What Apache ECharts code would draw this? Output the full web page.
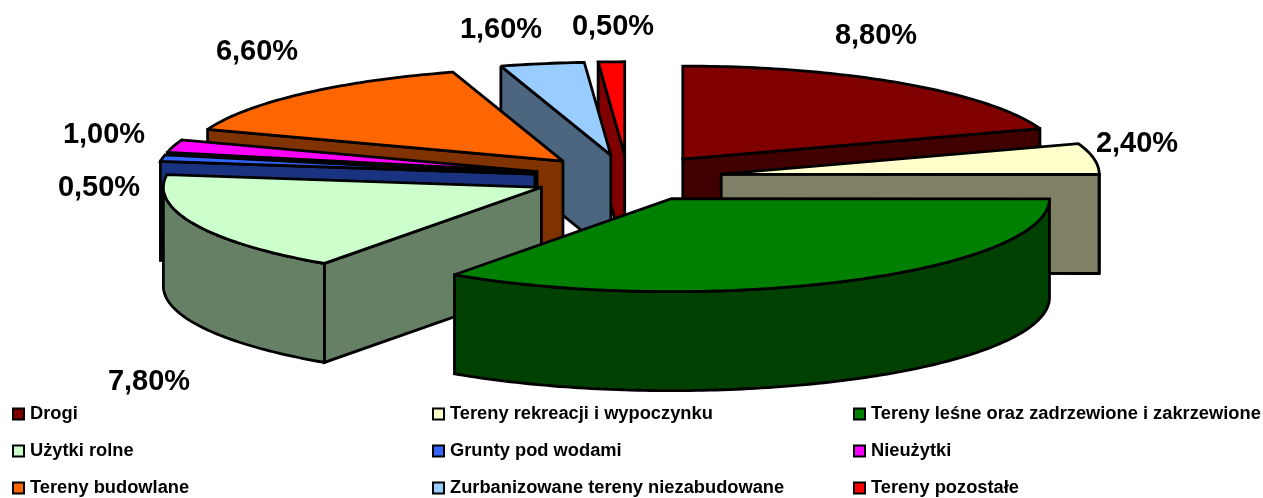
<!DOCTYPE html>
<html>
<head>
<meta charset="utf-8">
<style>
    html, body { margin: 0; padding: 0; background: #fff; }
    #chart { width: 1263px; height: 498px; }
</style>
<script src="https://cdn.jsdelivr.net/npm/echarts@6/dist/echarts.min.js"></script>
</head>
<body>
<div id="chart"></div>
<script>
// dane
var categories = ['Drogi', 'Tereny rekreacji i wypoczynku', 'Tereny leśne oraz zadrzewione i zakrzewione',
    'Użytki rolne', 'Grunty pod wodami', 'Nieużytki',
    'Tereny budowlane', 'Zurbanizowane tereny niezabudowane', 'Tereny pozostałe'];
// wartość lasów nie ma etykiety na obrazku, odczytana z kąta wycinka
var values = [8.8, 2.4, 15.5, 7.8, 0.5, 1.0, 6.6, 1.6, 0.5];
var labelTexts = ['8,80%', '2,40%', '', '7,80%', '0,50%', '1,00%', '6,60%', '1,60%', '0,50%'];
var colors = ['#800000', '#FFFFCC', '#008000', '#CCFFCC', '#3366FF', '#FF00FF', '#FF6600', '#99CCFF', '#FF0000'];
var wallColors = ['#400000', '#808066', '#004000', '#668066', '#1A3380', '#800080', '#803300', '#4D6680', '#800000'];
// środki etykiet w pikselach
var labelCenters = [[876, 36], [1137, 144], null, [149, 382], [99, 188], [104, 135], [257, 52], [501, 30], [613, 27]];
// kolejność rysowania, od tyłu do przodu
var drawOrder = [8, 7, 6, 5, 4, 3, 0, 1, 2];

// układ pseudo 3D
var centerX = 628, centerY = 178;
var radiusX = 378, radiusY = 93;
var depth = 99;
var explode = 0.25;

var total = 0;
for (var i = 0; i < values.length; i++) {
    total += values[i];
}
var startAngles = [];
var sum = 0;
for (var i = 0; i < values.length; i++) {
    startAngles.push(sum / total * 360);
    sum += values[i];
}

function rad(deg) {
    return deg * Math.PI / 180;
}

function rimPoint(cx, cy, deg, drop) {
    return [cx + radiusX * Math.sin(rad(deg)), cy - radiusY * Math.cos(rad(deg)) + drop];
}

function arcPoints(cx, cy, a0, a1, drop) {
    var pts = [];
    for (var a = a0; a < a1; a += 1) {
        pts.push(rimPoint(cx, cy, a, drop));
    }
    pts.push(rimPoint(cx, cy, a1, drop));
    return pts;
}

function face(points, fill, z2) {
    return {
        type: 'polygon',
        z2: z2,
        shape: { points: points },
        style: { fill: fill, stroke: '#000', lineWidth: 2.8, lineJoin: 'miter', miterLimit: 2 }
    };
}

function makeRenderItem(idx) {
    return function (params, api) {
        var a0 = startAngles[idx];
        var a1 = a0 + api.value(0) / total * 360;
        var mid = (a0 + a1) / 2;
        var cx = centerX + explode * radiusX * Math.sin(rad(mid));
        var cy = centerY - explode * radiusY * Math.cos(rad(mid));
        var children = [];

        // ściany cięcia
        if (Math.sin(rad(a0)) < -0.001) {
            var p = rimPoint(cx, cy, a0, 0);
            children.push(face([[cx, cy], p, [p[0], p[1] + depth], [cx, cy + depth]], wallColors[idx], 1));
        }
        if (Math.sin(rad(a1)) > 0.001) {
            var q = rimPoint(cx, cy, a1, 0);
            children.push(face([[cx, cy], q, [q[0], q[1] + depth], [cx, cy + depth]], wallColors[idx], 1));
        }
        // ściana zewnętrzna, tylko przednia połowa
        var w0 = Math.max(a0, 90), w1 = Math.min(a1, 270);
        if (w1 > w0) {
            var wall = arcPoints(cx, cy, w0, w1, 0).concat(arcPoints(cx, cy, w0, w1, depth).reverse());
            children.push(face(wall, wallColors[idx], 2));
        }
        // góra wycinka
        children.push(face([[cx, cy]].concat(arcPoints(cx, cy, a0, a1, 0)), colors[idx], 3));

        if (labelCenters[idx]) {
            children.push({
                type: 'text',
                z2: 10,
                style: {
                    x: labelCenters[idx][0],
                    y: labelCenters[idx][1],
                    text: labelTexts[idx],
                    fill: '#000',
                    align: 'center',
                    verticalAlign: 'middle',
                    font: 'bold 29px "Liberation Sans", Arial, sans-serif'
                }
            });
        }
        return { type: 'group', children: children };
    };
}

var seriesList = [];
for (var i = 0; i < drawOrder.length; i++) {
    var idx = drawOrder[i];
    seriesList.push({
        type: 'custom',
        name: categories[idx],
        coordinateSystem: 'none',
        itemStyle: { color: colors[idx] },
        renderItem: makeRenderItem(idx),
        data: [[values[idx]]],
        silent: true,
        animation: false
    });
}

function legendColumn(names, left) {
    return {
        orient: 'vertical',
        left: left,
        top: 400,
        height: 200,
        itemWidth: 11,
        itemHeight: 11,
        itemGap: 19,
        icon: 'rect',
        selectedMode: false,
        itemStyle: { borderColor: '#000', borderWidth: 2 },
        textStyle: {
            color: '#000',
            fontFamily: '"Liberation Sans", Arial, sans-serif',
            fontWeight: 'bold',
            fontSize: 18.3,
            padding: [0, 0, 0, 1],
            lineHeight: 18
        },
        data: names
    };
}

var chart = echarts.init(document.getElementById('chart'));
chart.setOption({
    backgroundColor: '#fff',
    animation: false,
    legend: [
        legendColumn([categories[0], categories[3], categories[6]], 7),
        legendColumn([categories[1], categories[4], categories[7]], 427),
        legendColumn([categories[2], categories[5], categories[8]], 848)
    ],
    series: seriesList
});
</script>
</body>
</html>
